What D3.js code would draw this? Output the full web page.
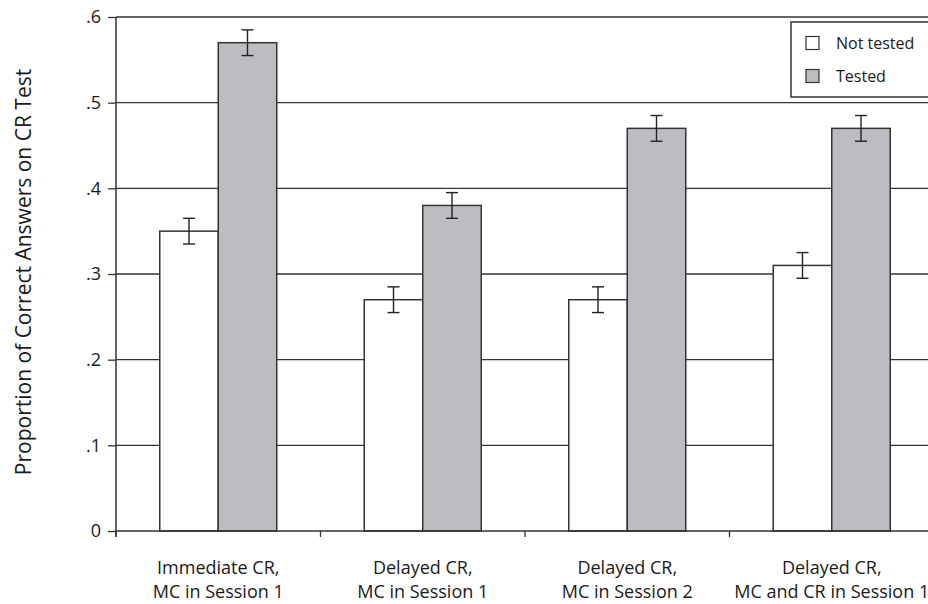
<!DOCTYPE html>
<html>
<head>
<meta charset="utf-8">
<script src="https://cdn.jsdelivr.net/npm/d3@7"></script>
<style>
  body { margin: 0; background: #fff; }
  svg text { font-family: "Open Sans", "Noto Sans", sans-serif; fill: #1a1a1a; }
</style>
</head>
<body>
<div id="chart"></div>
<script>
// Chart data
var categories = [
  ["Immediate CR,", "MC in Session 1"],
  ["Delayed CR,", "MC in Session 1"],
  ["Delayed CR,", "MC in Session 2"],
  ["Delayed CR,", "MC and CR in Session 1"]
];
var seriesNames = ["Not tested", "Tested"];
var notTested = [0.35, 0.27, 0.27, 0.31];
var tested = [0.57, 0.38, 0.47, 0.47];
var notTestedErr = [0.015, 0.015, 0.015, 0.015];
var testedErr = [0.015, 0.015, 0.015, 0.015];
var yTicks = [0, 0.1, 0.2, 0.3, 0.4, 0.5, 0.6];
var yTickLabels = ["0", ".1", ".2", ".3", ".4", ".5", ".6"];

var W = 928, H = 604;
var margin = {top: 17, right: -6, bottom: 73, left: 116};
var width = W - margin.left - margin.right;
var height = H - margin.top - margin.bottom;

var fills = ["#ffffff", "#bcbdc1"];
var ink = "#333333";

var svg = d3.select("#chart").append("svg")
    .attr("width", W)
    .attr("height", H);

var g = svg.append("g")
    .attr("transform", "translate(" + margin.left + "," + margin.top + ")");

var x = d3.scaleBand().domain(d3.range(categories.length)).range([0, width]);
var y = d3.scaleLinear().domain([0, 0.6]).range([height, 0]);

var barWidth = 58.5;

// Gridlines
g.selectAll(".grid")
    .data(yTicks.slice(1))
    .enter().append("line")
    .attr("x1", 0).attr("x2", width)
    .attr("y1", function(d) { return y(d); })
    .attr("y2", function(d) { return y(d); })
    .attr("stroke", ink)
    .attr("stroke-width", 1.3);

// Y axis
var yAxis = g.append("g")
    .call(d3.axisLeft(y).tickValues(yTicks)
      .tickFormat(function(d, i) { return yTickLabels[i]; })
      .tickSize(8).tickPadding(7));
yAxis.select(".domain").remove();
yAxis.selectAll("line").attr("stroke", ink).attr("stroke-width", 1.3);
yAxis.selectAll("text").style("font-size", "18px").attr("fill", "#1a1a1a");

g.append("line")
    .attr("x1", 0).attr("x2", 0)
    .attr("y1", 0).attr("y2", height + 6)
    .attr("stroke", ink).attr("stroke-width", 1.5);

// X axis ticks at band boundaries
g.selectAll(".xtick")
    .data(d3.range(categories.length + 1))
    .enter().append("line")
    .attr("x1", function(i) { return i * x.bandwidth(); })
    .attr("x2", function(i) { return i * x.bandwidth(); })
    .attr("y1", height).attr("y2", height + 6)
    .attr("stroke", ink).attr("stroke-width", 1.3);

// Category labels
var labels = g.selectAll(".xlabel")
    .data(categories)
    .enter().append("text")
    .attr("text-anchor", "middle")
    .attr("transform", function(d, i) {
      return "translate(" + (x(i) + x.bandwidth() / 2) + "," + (height + 43) + ")";
    })
    .style("font-size", "18px");
labels.selectAll("tspan")
    .data(function(d) { return d; })
    .enter().append("tspan")
    .attr("x", 0)
    .attr("dy", function(d, j) { return j === 0 ? 0 : 24; })
    .text(function(d) { return d; });

// Bars
var scenes = [];
categories.forEach(function(c, i) {
  scenes.push({cat: i, s: 0, value: notTested[i], err: notTestedErr[i]});
  scenes.push({cat: i, s: 1, value: tested[i], err: testedErr[i]});
});

function barX(d) {
  return x(d.cat) + x.bandwidth() / 2 + (d.s === 0 ? -barWidth : 0);
}

g.selectAll(".bar")
    .data(scenes)
    .enter().append("rect")
    .attr("x", barX)
    .attr("y", function(d) { return y(d.value); })
    .attr("width", barWidth)
    .attr("height", function(d) { return height - y(d.value); })
    .attr("fill", function(d) { return fills[d.s]; })
    .attr("stroke", ink)
    .attr("stroke-width", 1.5);

// Baseline
g.append("line")
    .attr("x1", 0).attr("x2", width)
    .attr("y1", height).attr("y2", height)
    .attr("stroke", ink).attr("stroke-width", 1.5);

// Error bars
var eb = g.selectAll(".err")
    .data(scenes)
    .enter().append("g")
    .attr("transform", function(d) { return "translate(" + (barX(d) + barWidth / 2) + ",0)"; })
    .attr("stroke", "#222").attr("stroke-width", 1.4);
eb.append("line")
    .attr("y1", function(d) { return y(d.value + d.err); })
    .attr("y2", function(d) { return y(d.value - d.err); });
eb.append("line")
    .attr("x1", -6).attr("x2", 6)
    .attr("y1", function(d) { return y(d.value + d.err); })
    .attr("y2", function(d) { return y(d.value + d.err); });
eb.append("line")
    .attr("x1", -6).attr("x2", 6)
    .attr("y1", function(d) { return y(d.value - d.err); })
    .attr("y2", function(d) { return y(d.value - d.err); });

// Y axis title
svg.append("text")
    .attr("transform", "translate(31,272) rotate(-90)")
    .attr("text-anchor", "middle")
    .style("font-size", "21px")
    .text("Proportion of Correct Answers on CR Test");

// Legend
var legend = svg.append("g");
legend.append("rect")
    .attr("x", 791).attr("y", 22)
    .attr("width", 150).attr("height", 75)
    .attr("fill", "#fff").attr("stroke", ink).attr("stroke-width", 1.5);
var items = legend.selectAll(".item")
    .data(seriesNames)
    .enter().append("g")
    .attr("transform", function(d, i) { return "translate(806," + (43 + i * 33) + ")"; });
items.append("rect")
    .attr("x", 0).attr("y", -6.5)
    .attr("width", 13).attr("height", 13)
    .attr("fill", function(d, i) { return fills[i]; })
    .attr("stroke", ink).attr("stroke-width", 1.2);
items.append("text")
    .attr("x", 30).attr("dy", "0.35em")
    .style("font-size", "16px")
    .text(function(d) { return d; });
</script>
</body>
</html>
